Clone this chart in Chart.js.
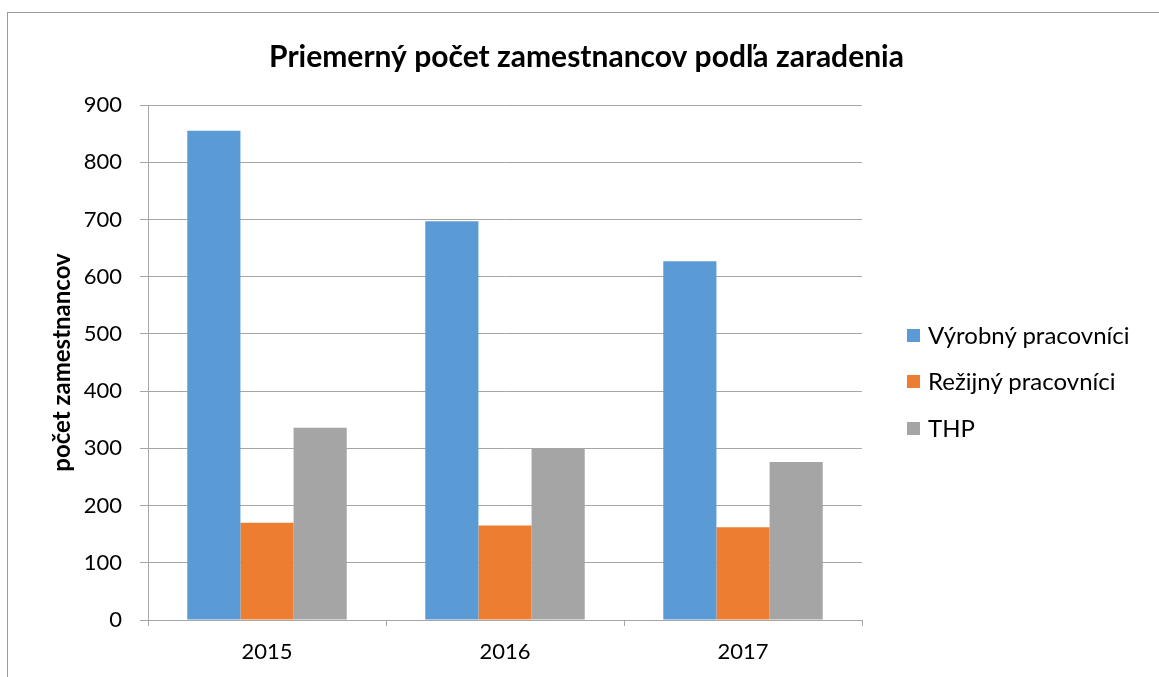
<!DOCTYPE html>
<html>
<head>
<meta charset="utf-8">
<script src="https://cdn.jsdelivr.net/npm/chart.js@4.4.0/dist/chart.umd.min.js"></script>
<style>
  html, body { margin: 0; padding: 0; background: #fff; }
  #wrap { position: relative; width: 1159px; height: 677px; overflow: hidden; }
  #frame { position: absolute; left: 7px; top: 12px; width: 1200px; height: 700px;
           border-left: 1px solid #9a9a9a; border-top: 1px solid #9a9a9a; }
  canvas { position: absolute; left: 0; top: 0; }
  #legend { position: absolute; left: 907px; top: 311px; font-family: Lato, sans-serif;
            font-size: 24px; color: #000; }
  #legend div { height: 46.5px; display: flex; align-items: center; }
  #legend span.box { display: inline-block; width: 13px; height: 13px; margin: 2px 8px 0 0; }
</style>
</head>
<body>
<div id="wrap">
  <div id="frame"></div>
  <canvas id="chart" width="1159" height="677"></canvas>
  <div id="legend"></div>
</div>
<script>
const years = ['2015', '2016', '2017'];
const vyrobni = [855, 697, 627];
const rezijni = [170, 165, 162];
const thp = [336, 300, 276];
const seriesNames = ['Výrobný pracovníci', 'Režijný pracovníci', 'THP'];
const seriesColors = ['#5b9bd5', '#ed7d31', '#a5a5a5'];

const chartData = {
  labels: years,
  datasets: [vyrobni, rezijni, thp].map((vals, i) => ({
    label: seriesNames[i],
    data: vals,
    backgroundColor: seriesColors[i],
    barPercentage: 1,
    categoryPercentage: 0.67,
  })),
};

const ctx = document.getElementById('chart').getContext('2d');
new Chart(ctx, {
  type: 'bar',
  data: chartData,
  options: {
    responsive: false,
    animation: false,
    layout: { padding: { left: 14, right: 0, top: 0, bottom: 0 } },
    plugins: {
      legend: { display: false },
      tooltip: { enabled: false },
      title: {
        display: true,
        text: 'Priemerný počet zamestnancov podľa zaradenia',
        color: '#000',
        font: { family: 'Lato', size: 30, weight: 'bold' },
        padding: { top: 39, bottom: 30 },
      },
    },
    scales: {
      x: {
        afterFit: (scale) => { scale.height = 57; },
        grid: { drawOnChartArea: false, drawTicks: true, tickLength: 6, color: '#a6a6a6', offset: true },
        border: { color: '#a6a6a6' },
        ticks: { color: '#000', padding: 13, font: { family: 'Lato', size: 22 } },
      },
      y: {
        min: 0,
        max: 900,
        afterFit: (scale) => { scale.width = 134; },
        ticks: { stepSize: 100, color: '#000', padding: 18, font: { family: 'Lato', size: 22 } },
        grid: { color: '#a6a6a6', tickLength: 8 },
        border: { color: '#a6a6a6' },
        title: {
          display: true,
          text: 'počet zamestnancov',
          color: '#000',
          font: { family: 'Lato', size: 24, weight: 'bold' },
          padding: { top: 34, bottom: 0 },
        },
      },
      // empty right-hand space where the legend sits
      side: {
        position: 'right',
        afterFit: (scale) => { scale.width = 297; },
        grid: { display: false },
        border: { display: false },
        ticks: { display: false },
      },
    },
  },
});

// legend on the right, built from the same arrays
const legend = document.getElementById('legend');
seriesNames.forEach((name, i) => {
  const row = document.createElement('div');
  row.innerHTML = '<span class="box" style="background:' + seriesColors[i] + '"></span><span>' + name + '</span>';
  legend.appendChild(row);
});
</script>
</body>
</html>
